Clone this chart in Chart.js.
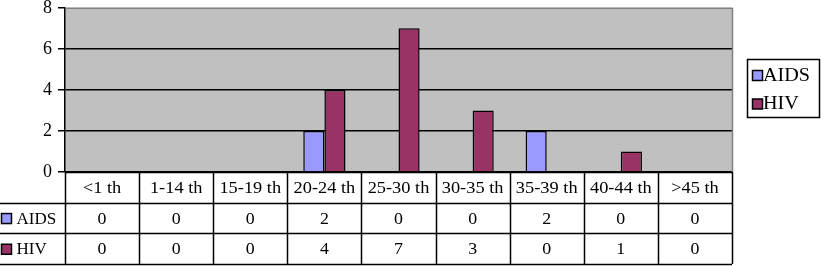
<!DOCTYPE html>
<html>
<head>
<meta charset="utf-8">
<script src="https://cdn.jsdelivr.net/npm/chart.js@4/dist/chart.umd.min.js"></script>
<style>
html,body{margin:0;padding:0;background:#fff;overflow:hidden;}
canvas{display:block;margin-top:-9px;}
</style>
</head>
<body>
<canvas id="c" width="821" height="275"></canvas>
<script>
const categories = ['<1 th','1-14 th','15-19 th','20-24 th','25-30 th','30-35 th','35-39 th','40-44 th','>45 th'];
const aidsValues = [0,0,0,2,0,0,2,0,0];
const hivValues  = [0,0,0,4,7,3,0,1,0];
const seriesNames = ['AIDS','HIV'];
const seriesColors = ['#9999FF','#993366'];
const yTicks = [0,2,4,6,8];

const FONT = '"Liberation Serif", "Times New Roman", serif';
const FS = 17;
const OFFSET = 9; // canvas is shifted up by this many px

function stretchText(ctx, txt, x, y, sx) {
  ctx.save();
  ctx.translate(x, y);
  ctx.scale(sx, 1);
  ctx.fillText(txt, 0, 0);
  ctx.restore();
}

const tablePlugin = {
  id: 'tablePlugin',
  beforeDraw(chart) {
    const {ctx, chartArea: a} = chart;
    ctx.save();
    ctx.fillStyle = '#C0C0C0';
    ctx.fillRect(a.left, a.top, a.right - a.left, a.bottom - a.top);
    ctx.restore();
  },
  afterDraw(chart) {
    const {ctx, chartArea: a} = chart;
    const n = categories.length;
    const colW = (a.right - a.left) / n;
    const rowH = 30.7;
    const top = a.bottom;
    ctx.save();
    ctx.strokeStyle = '#808080';
    ctx.lineWidth = 1.5;
    ctx.beginPath();
    ctx.moveTo(a.left, a.top + 0.5); ctx.lineTo(a.right + 0.5, a.top + 0.5);
    ctx.moveTo(a.right + 0.5, a.top); ctx.lineTo(a.right + 0.5, a.bottom);
    ctx.stroke();

    ctx.strokeStyle = '#000';
    ctx.lineWidth = 1.5;
    ctx.beginPath();
    ctx.moveTo(a.left, top + 0.5); ctx.lineTo(a.right, top + 0.5);
    for (let r = 1; r <= 3; r++) {
      const y = Math.round(top + rowH * r) + 0.5;
      ctx.moveTo(0, y); ctx.lineTo(a.right, y);
    }
    for (let i = 0; i <= n; i++) {
      const x = Math.round(a.left + colW * i) + 0.5;
      ctx.moveTo(x, top); ctx.lineTo(x, top + rowH * 3);
    }
    ctx.stroke();

    ctx.fillStyle = '#000';
    ctx.font = FS + 'px ' + FONT;
    ctx.textAlign = 'center';
    ctx.textBaseline = 'middle';
    const rows = [categories, aidsValues, hivValues];
    rows.forEach((row, r) => {
      row.forEach((v, i) => {
        const cx = a.left + colW * (i + 0.5);
        const cy = top + rowH * (r + 0.5) + 1;
        stretchText(ctx, String(v), cx, cy, r === 0 ? 1.08 : 1.05);
      });
    });
    ctx.textAlign = 'left';
    for (let s = 0; s < 2; s++) {
      const cy = top + rowH * (s + 1.5);
      ctx.fillStyle = seriesColors[s];
      ctx.fillRect(1.5, cy - 4.5, 10, 10);
      ctx.strokeStyle = '#000';
      ctx.lineWidth = 1.5;
      ctx.strokeRect(1.5, cy - 4.5, 10, 10);
      ctx.fillStyle = '#000';
      stretchText(ctx, seriesNames[s], 16.5, cy + 1, 1.0);
    }

    const lx = 747, ly = 59 + OFFSET, lw = 72, lh = 58;
    ctx.fillStyle = '#fff';
    ctx.fillRect(lx, ly, lw, lh);
    ctx.strokeStyle = '#000';
    ctx.lineWidth = 1.5;
    ctx.strokeRect(lx + 0.5, ly + 0.5, lw, lh);
    ctx.font = '18px ' + FONT;
    for (let s = 0; s < 2; s++) {
      const cy = ly + 16 + s * 28.5;
      ctx.fillStyle = seriesColors[s];
      ctx.fillRect(lx + 5.5, cy - 4.5, 10, 10);
      ctx.strokeStyle = '#000';
      ctx.strokeRect(lx + 5.5, cy - 4.5, 10, 10);
      ctx.fillStyle = '#000';
      stretchText(ctx, seriesNames[s], lx + 16, cy + 1, 1.12);
    }
    ctx.restore();
  }
};

new Chart(document.getElementById('c'), {
  type: 'bar',
  data: {
    labels: categories,
    datasets: [
      { label: seriesNames[0], data: aidsValues, backgroundColor: seriesColors[0], borderColor: '#000', borderWidth: 1.5 },
      { label: seriesNames[1], data: hivValues, backgroundColor: seriesColors[1], borderColor: '#000', borderWidth: 1.5 }
    ]
  },
  options: {
    responsive: false,
    animation: false,
    devicePixelRatio: 1,
    layout: { padding: { top: 0, right: 89, bottom: 94, left: 0 } },
    datasets: { bar: { categoryPercentage: 0.57, barPercentage: 1.0 } },
    plugins: { legend: { display: false }, tooltip: { enabled: false } },
    scales: {
      x: { display: false, offset: true },
      y: {
        min: 0, max: 8,
        afterFit(s) { s.width = 65; },
        afterBuildTicks(s) { s.ticks = yTicks.map(v => ({ value: v })); },
        border: { display: true, color: '#000', width: 1.5 },
        grid: {
          color: ctx => (ctx.tick && ctx.tick.value === 8) ? 'rgba(0,0,0,0)' : '#000',
          tickColor: '#000',
          tickLength: 7,
          lineWidth: 1.5
        },
        ticks: {
          color: '#000',
          padding: 6,
          font: { family: FONT, size: 18 }
        }
      }
    }
  },
  plugins: [tablePlugin]
});
</script>
</body>
</html>
